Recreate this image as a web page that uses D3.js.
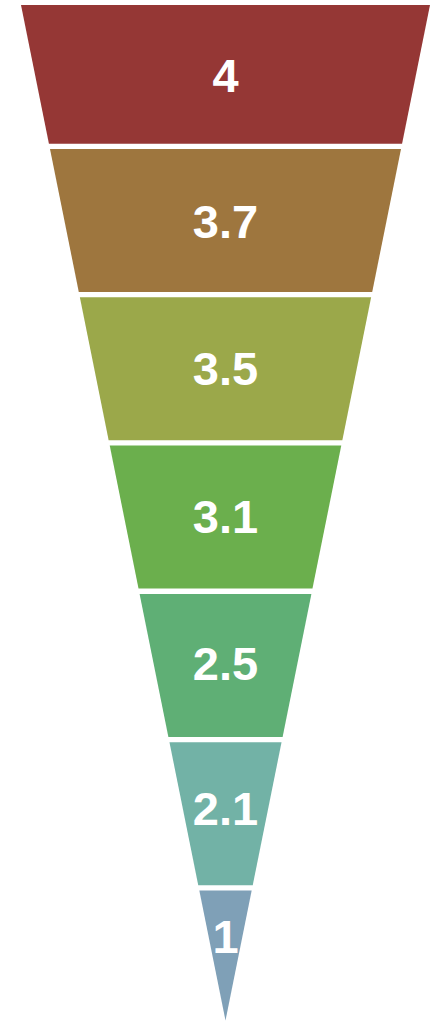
<!DOCTYPE html>
<html>
<head>
<meta charset="utf-8">
<script src="https://cdn.jsdelivr.net/npm/d3@7"></script>
<style>
  html, body { margin: 0; padding: 0; background: #ffffff; }
  svg { display: block; }
</style>
</head>
<body>
<svg id="chart" width="431" height="1021"></svg>
<script>
// Data
const categories = ["A", "B", "C", "D", "E", "F", "G"];
const values = [4, 3.7, 3.5, 3.1, 2.5, 2.1, 1];
const labels = ["4", "3.7", "3.5", "3.1", "2.5", "2.1", "1"];
const colors = ["#953735", "#9E763E", "#9BA84A", "#6BAF4D", "#5FAF75", "#72B2A6", "#7FA0B7"];

const W = 431, H = 1021;
const svg = d3.select("#chart");

// Funnel geometry
const cx = 225.5;
const funnelTop = 5, apex = 1020.5, topHalf = 204.5;

// Band scale for segment slots
const y = d3.scaleBand()
  .domain(categories)
  .range([0.7, 1033.5])
  .paddingInner(0.036)
  .paddingOuter(0);

// Half width as a function of vertical position (triangle)
const half = d3.scaleLinear().domain([funnelTop, apex]).range([topHalf, 0]);

const segs = categories.map((c, i) => {
  const y0 = Math.max(y(c), funnelTop);
  const y1 = Math.min(y(c) + y.bandwidth(), apex);
  const pts = [];
  pts.push([cx - half(y0), y0]);
  pts.push([cx + half(y0), y0]);
  if (y1 >= apex - 0.01) {
    pts.push([cx, y1]);
  } else {
    pts.push([cx + half(y1), y1]);
    pts.push([cx - half(y1), y1]);
  }
  return { c, i, value: values[i], label: labels[i], color: colors[i], pts };
});

const g = svg.append("g");

g.selectAll("path.seg")
  .data(segs)
  .join("path")
  .attr("class", "seg")
  .attr("d", d => "M" + d.pts.map(p => p.join(",")).join("L") + "Z")
  .attr("fill", d => d.color);

g.selectAll("text.lbl")
  .data(segs)
  .join("text")
  .attr("class", "lbl")
  .attr("x", d => d3.polygonCentroid(d.pts)[0])
  .attr("y", d => d3.polygonCentroid(d.pts)[1])
  .attr("dy", "0.41em")
  .attr("text-anchor", "middle")
  .attr("fill", "#ffffff")
  .attr("font-family", "'Liberation Sans', Arial, sans-serif")
  .attr("font-weight", "bold")
  .attr("font-size", 47)
  .text(d => d.label);
</script>
</body>
</html>
